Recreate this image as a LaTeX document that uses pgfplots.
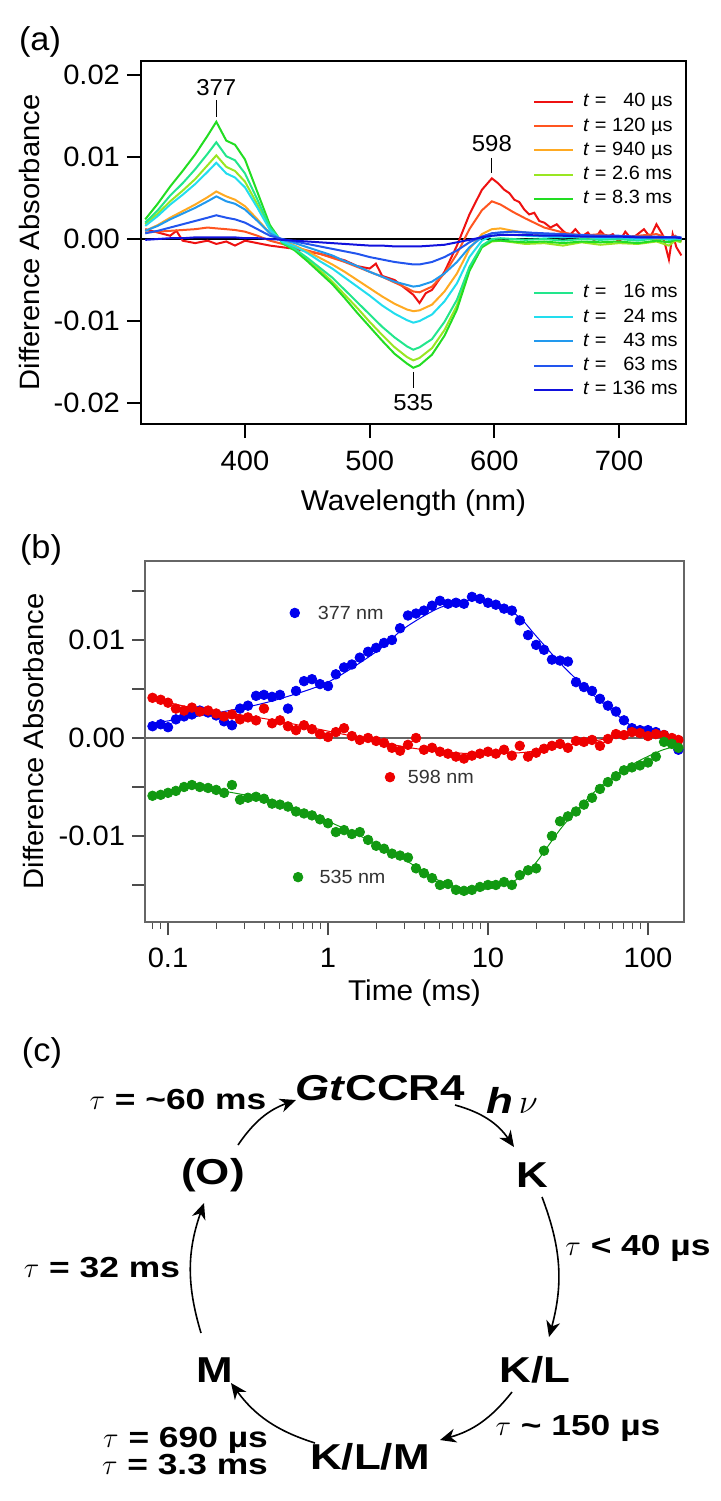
\documentclass[border=0pt]{standalone}
\usepackage{fontspec}
\setmainfont{Liberation Sans}[FakeStretch=1.04]
\newfontfamily\cfont{Liberation Sans}[FakeStretch=1.22]
\usepackage{pgfplots}
\pgfplotsset{compat=1.18}
\usepackage{pgfplotstable}
\usetikzlibrary{arrows.meta}

\definecolor{c1}{HTML}{EE1111}
\definecolor{c2}{HTML}{FF5520}
\definecolor{c3}{HTML}{FFAA22}
\definecolor{c4}{HTML}{99E622}
\definecolor{c5}{HTML}{22DD22}
\definecolor{c6}{HTML}{22E68C}
\definecolor{c7}{HTML}{22DDEE}
\definecolor{c8}{HTML}{2299EE}
\definecolor{c9}{HTML}{2255EE}
\definecolor{c10}{HTML}{1111DD}
\definecolor{pblue}{HTML}{0000EE}
\definecolor{pred}{HTML}{EE0000}
\definecolor{pgreen}{HTML}{119911}

\pgfplotstableread{
w a
320 0.0012
330 0.0008
340 0.0004
345 0.0010
350 -0.0002
360 -0.0005
370 -0.0002
377 -0.0006
385 -0.0003
392 -0.0008
400 -0.0002
410 -0.0005
420 -0.0008
430 -0.0010
440 -0.0012
450 -0.0015
460 -0.0018
470 -0.0022
480 -0.0026
490 -0.0033
500 -0.0036
505 -0.0030
510 -0.0045
520 -0.0050
530 -0.0062
535 -0.0068
540 -0.0078
545 -0.0066
550 -0.0062
560 -0.0040
570 -0.0008
580 0.0030
590 0.0060
598 0.0074
603 0.0068
608 0.0060
612 0.0056
616 0.0048
620 0.0045
624 0.0036
628 0.0030
632 0.0032
636 0.0022
640 0.0020
645 0.0014
650 0.0018
655 0.0010
660 0.0004
665 0.0012
670 0.0003
675 0.0008
680 -0.0002
685 0.0010
690 0.0002
695 0.0006
700 -0.0004
705 0.0009
710 0.0000
715 0.0006
720 0.0012
725 0.0002
730 0.0018
735 0.0005
740 -0.0025
743 0.0006
746 -0.0010
750 -0.0020
}\redspec

\pgfplotstableread{
w b c d e f g h i j
320 0.0008 0.0010 0.0018 0.0024 0.0020 0.0016 0.0010 0.0007 -0.0001
330 0.0009 0.0017 0.0031 0.0043 0.0035 0.0028 0.0016 0.0010 0.0000
340 0.0010 0.0026 0.0046 0.0064 0.0053 0.0042 0.0024 0.0014 0.0001
350 0.0011 0.0034 0.0059 0.0083 0.0068 0.0054 0.0031 0.0018 0.0001
360 0.0012 0.0042 0.0073 0.0103 0.0085 0.0067 0.0038 0.0022 0.0002
370 0.0014 0.0051 0.0090 0.0126 0.0104 0.0082 0.0046 0.0026 0.0002
377 0.0013 0.0058 0.0102 0.0143 0.0118 0.0093 0.0052 0.0029 0.0002
385 0.0012 0.0052 0.0088 0.0120 0.0101 0.0080 0.0046 0.0026 0.0002
392 0.0011 0.0048 0.0083 0.0115 0.0096 0.0075 0.0043 0.0024 0.0002
400 0.0009 0.0040 0.0070 0.0097 0.0080 0.0063 0.0036 0.0020 0.0001
410 0.0004 0.0024 0.0042 0.0057 0.0048 0.0038 0.0022 0.0012 0.0001
420 -0.0002 0.0007 0.0012 0.0017 0.0014 0.0011 0.0007 0.0004 0.0000
430 -0.0006 -0.0002 -0.0004 -0.0005 -0.0004 -0.0003 -0.0001 0.0000 -0.0001
440 -0.0010 -0.0008 -0.0013 -0.0014 -0.0012 -0.0009 -0.0005 -0.0003 -0.0002
450 -0.0014 -0.0015 -0.0025 -0.0027 -0.0023 -0.0017 -0.0010 -0.0006 -0.0003
460 -0.0018 -0.0023 -0.0038 -0.0041 -0.0035 -0.0027 -0.0015 -0.0009 -0.0004
470 -0.0023 -0.0031 -0.0052 -0.0055 -0.0047 -0.0036 -0.0020 -0.0012 -0.0005
480 -0.0028 -0.0040 -0.0068 -0.0072 -0.0062 -0.0047 -0.0027 -0.0015 -0.0006
490 -0.0034 -0.0050 -0.0084 -0.0090 -0.0077 -0.0058 -0.0033 -0.0018 -0.0007
500 -0.0040 -0.0060 -0.0101 -0.0107 -0.0092 -0.0069 -0.0040 -0.0022 -0.0008
510 -0.0046 -0.0070 -0.0117 -0.0124 -0.0107 -0.0081 -0.0046 -0.0025 -0.0008
520 -0.0053 -0.0079 -0.0132 -0.0140 -0.0120 -0.0091 -0.0052 -0.0028 -0.0009
530 -0.0060 -0.0086 -0.0144 -0.0152 -0.0131 -0.0099 -0.0056 -0.0030 -0.0009
535 -0.0064 -0.0088 -0.0148 -0.0157 -0.0135 -0.0102 -0.0058 -0.0031 -0.0009
540 -0.0065 -0.0087 -0.0145 -0.0154 -0.0132 -0.0100 -0.0057 -0.0031 -0.0009
550 -0.0058 -0.0080 -0.0133 -0.0141 -0.0122 -0.0092 -0.0052 -0.0028 -0.0008
560 -0.0042 -0.0064 -0.0111 -0.0118 -0.0101 -0.0076 -0.0042 -0.0022 -0.0007
570 -0.0018 -0.0042 -0.0081 -0.0086 -0.0074 -0.0054 -0.0028 -0.0014 -0.0004
580 0.0012 -0.0012 -0.0037 -0.0039 -0.0034 -0.0022 -0.0010 -0.0004 -0.0001
590 0.0035 0.0006 -0.0010 -0.0010 -0.0008 -0.0002 0.0002 0.0003 0.0002
598 0.0046 0.0012 -0.0003 -0.0002 0.0000 0.0004 0.0007 0.0007 0.0004
605 0.0042 0.0013 -0.0002 -0.0002 0.0001 0.0005 0.0008 0.0008 0.0005
615 0.0033 0.0010 -0.0004 -0.0003 0.0000 0.0005 0.0009 0.0009 0.0005
625 0.0025 0.0008 -0.0006 -0.0004 -0.0001 0.0004 0.0008 0.0008 0.0005
640 0.0014 0.0005 -0.0005 -0.0003 0.0000 0.0003 0.0006 0.0007 0.0004
655 0.0008 0.0003 -0.0008 -0.0005 -0.0002 0.0002 0.0005 0.0006 0.0004
670 0.0004 0.0002 -0.0004 -0.0003 0.0000 0.0003 0.0004 0.0005 0.0003
685 0.0006 0.0001 -0.0007 -0.0004 -0.0001 0.0001 0.0003 0.0004 0.0003
700 0.0002 0.0000 -0.0005 -0.0003 0.0000 0.0002 0.0002 0.0004 0.0003
715 0.0004 0.0002 -0.0006 -0.0005 -0.0002 0.0000 0.0002 0.0003 0.0002
730 0.0006 -0.0001 -0.0003 -0.0002 0.0001 0.0002 0.0001 0.0003 0.0002
740 0.0001 0.0001 -0.0008 -0.0004 -0.0001 0.0000 0.0002 0.0002 0.0002
745 0.0004 0.0000 -0.0002 -0.0001 0.0000 0.0001 0.0001 0.0003 0.0002
750 -0.0003 0.0001 -0.0004 -0.0002 0.0000 0.0000 0.0001 0.0002 0.0001
}\spectra

\pgfplotstableread{
t b r g
0.080 0.0012 0.0041 -0.0059
0.090 0.0014 0.0039 -0.0058
0.100 0.0011 0.0036 -0.0056
0.112 0.0019 0.0030 -0.0054
0.126 0.0022 0.0028 -0.0050
0.141 0.0024 0.0031 -0.0048
0.158 0.0028 0.0027 -0.0050
0.178 0.0026 0.0028 -0.0051
0.200 0.0023 0.0025 -0.0053
0.224 0.0017 0.0022 -0.0056
0.251 0.0013 0.0024 -0.0048
0.282 0.0030 0.0019 -0.0063
0.316 0.0033 0.0021 -0.0061
0.355 0.0043 0.0018 -0.0060
0.398 0.0044 0.0030 -0.0062
0.447 0.0042 0.0015 -0.0067
0.501 0.0044 0.0018 -0.0068
0.562 0.0030 0.0012 -0.0070
0.631 0.0048 0.0008 -0.0075
0.708 0.0058 0.0013 -0.0077
0.794 0.0060 0.0009 -0.0079
0.891 0.0055 0.0004 -0.0083
1.00 0.0053 0.0001 -0.0087
1.12 0.0065 0.0006 -0.0096
1.26 0.0072 0.0010 -0.0094
1.41 0.0075 0.0002 -0.0098
1.58 0.0082 -0.0002 -0.0096
1.78 0.0088 0.0000 -0.0104
2.00 0.0092 -0.0003 -0.0110
2.24 0.0097 -0.0005 -0.0113
2.51 0.0100 -0.0010 -0.0118
2.82 0.0112 -0.0013 -0.0120
3.16 0.0125 -0.0007 -0.0122
3.55 0.0127 0.0000 -0.0133
3.98 0.0130 -0.0012 -0.0138
4.47 0.0135 -0.0010 -0.0143
5.01 0.0140 -0.0014 -0.0150
5.62 0.0137 -0.0016 -0.0149
6.31 0.0138 -0.0019 -0.0155
7.08 0.0137 -0.0021 -0.0156
7.94 0.0144 -0.0018 -0.0155
8.91 0.0142 -0.0016 -0.0152
10.0 0.0138 -0.0014 -0.0150
11.2 0.0136 -0.0016 -0.0150
12.6 0.0132 -0.0012 -0.0147
14.1 0.0130 -0.0018 -0.0150
15.8 0.0120 -0.0008 -0.0140
17.8 0.0105 -0.0019 -0.0135
20.0 0.0095 -0.0015 -0.0133
22.4 0.0090 -0.0011 -0.0115
25.1 0.0080 -0.0008 -0.0100
28.2 0.0079 -0.0006 -0.0085
31.6 0.0078 -0.0010 -0.0080
35.5 0.0057 -0.0003 -0.0075
39.8 0.0052 -0.0004 -0.0068
44.7 0.0048 -0.0002 -0.0061
50.1 0.0040 -0.0008 -0.0052
56.2 0.0033 -0.0001 -0.0045
63.1 0.0027 0.0004 -0.0039
70.8 0.0018 0.0003 -0.0033
79.4 0.0010 0.0006 -0.0030
89.1 0.0008 0.0005 -0.0028
100 0.0008 0.0002 -0.0025
112 0.0006 0.0004 -0.0019
126 0.0003 0.0003 -0.0004
141 -0.0002 0.0000 -0.0006
155 -0.0012 -0.0002 -0.0010
}\traces

\pgfplotstableread{
t b r g
0.08 0.0015 0.0040 -0.0058
0.15 0.0022 0.0030 -0.0051
0.3 0.0031 0.0023 -0.0058
0.5 0.0040 0.0017 -0.0066
1 0.0057 0.0007 -0.0085
2 0.0088 -0.0003 -0.0108
3 0.0112 -0.0009 -0.0124
5 0.0133 -0.0014 -0.0146
8 0.0141 -0.0016 -0.0155
12 0.0136 -0.0016 -0.0151
16 0.0122 -0.0015 -0.0142
20 0.0104 -0.0013 -0.0127
30 0.0072 -0.0008 -0.0088
50 0.0038 -0.0002 -0.0050
80 0.0012 0.0004 -0.0027
120 0.0002 0.0003 -0.0013
155 -0.0003 0.0001 -0.0008
}\fits

\begin{document}
\begin{tikzpicture}
\path[use as bounding box] (0pt,0pt) rectangle (360.5pt,-750.5pt);

\node[font=\fontsize{16.5}{18}\selectfont] at (20pt,-21pt) {(a)};
\node[font=\fontsize{16.5}{18}\selectfont] at (20.5pt,-275pt) {(b)};
\node[font=\fontsize{16.5}{18}\selectfont] at (21pt,-526.5pt) {(c)};

% ---------------- (a) ----------------
\begin{axis}[
  at={(70.5pt,-30.5pt)}, anchor=north west,
  width=272.5pt, height=181.5pt, scale only axis,
  xmin=316.6, xmax=753.7, ymin=-0.02256, ymax=0.02171,
  scaled y ticks=false, scaled x ticks=false,
  xtick={400,500,600,700}, xticklabels={400,500,600,700},
  ytick={-0.02,-0.01,0,0.01,0.02}, yticklabels={-0.02,-0.01,0.00,0.01,0.02},
  xtick pos=left, ytick pos=left,
  tick align=outside, major tick length=7pt,
  tick style={line width=0.9pt, black},
  axis line style={line width=1.1pt},
  ticklabel style={font=\fontsize{14}{16}\selectfont},
  xticklabel style={yshift=-3pt},
  xlabel={Wavelength (nm)}, ylabel={Difference Absorbance},
  xlabel style={at={(axis description cs:0.5,-0.218)}, anchor=center, font=\fontsize{14.3}{16}\selectfont},
  ylabel style={at={(axis description cs:-0.205,0.5)}, anchor=center, font=\fontsize{14}{16}\selectfont},
  legend style={at={(axis cs:626,0.0186)}, anchor=north west, draw=none, fill=none,
    font=\fontsize{9.6}{11}\selectfont, row sep=1.1pt,
    nodes={inner sep=1pt, text height=7pt, text depth=2pt},
    /tikz/every odd column/.append style={column sep=3.5pt}},
  legend cell align=left,
  legend image code/.code={\draw[#1] (0pt,0pt) -- (19.5pt,0pt);},
  every axis plot/.append style={line width=1pt},
]
\addplot[black, line width=1.1pt, forget plot] coordinates {(316.6,0) (753.7,0)};
\addplot[c1] table[x=w,y=a] {\redspec};
\addlegendentry{\textit{t} = \phantom{0}40 µs}
\addplot[c2] table[x=w,y=b] {\spectra};
\addlegendentry{\textit{t} = 120 µs}
\addplot[c3] table[x=w,y=c] {\spectra};
\addlegendentry{\textit{t} = 940 µs}
\addplot[c4] table[x=w,y=d] {\spectra};
\addlegendentry{\textit{t} = 2.6 ms}
\addplot[c5] table[x=w,y=e] {\spectra};
\addlegendentry{\textit{t} = 8.3 ms}
\addplot[c6, forget plot] table[x=w,y=f] {\spectra};
\addplot[c7, forget plot] table[x=w,y=g] {\spectra};
\addplot[c8, forget plot] table[x=w,y=h] {\spectra};
\addplot[c9, forget plot] table[x=w,y=i] {\spectra};
\addplot[c10, forget plot] table[x=w,y=j] {\spectra};
\addplot[black, line width=0.5pt, forget plot] coordinates {(377,0.0169) (377,0.0149)};
\addplot[black, line width=0.5pt, forget plot] coordinates {(598,0.0099) (598,0.0080)};
\addplot[black, line width=0.5pt, forget plot] coordinates {(535,-0.0162) (535,-0.0182)};
\node[font=\fontsize{11.5}{12}\selectfont] at (axis cs:377,0.0185) {377};
\node[font=\fontsize{11.5}{12}\selectfont] at (axis cs:598,0.0116) {598};
\node[font=\fontsize{11.5}{12}\selectfont] at (axis cs:535,-0.0200) {535};
\end{axis}

\begin{axis}[
  at={(70.5pt,-30.5pt)}, anchor=north west,
  width=272.5pt, height=181.5pt, scale only axis, hide axis,
  xmin=316.6, xmax=753.7, ymin=-0.02256, ymax=0.02171,
  legend style={at={(axis cs:626,-0.0047)}, anchor=north west, draw=none, fill=none,
    font=\fontsize{9.6}{11}\selectfont, row sep=1.1pt,
    nodes={inner sep=1pt, text height=7pt, text depth=2pt},
    /tikz/every odd column/.append style={column sep=3.5pt}},
  legend cell align=left,
  legend image code/.code={\draw[#1] (0pt,0pt) -- (19.5pt,0pt);},
]
\addlegendimage{c6, line width=1pt}
\addlegendentry{\textit{t} = \phantom{0}16 ms}
\addlegendimage{c7, line width=1pt}
\addlegendentry{\textit{t} = \phantom{0}24 ms}
\addlegendimage{c8, line width=1pt}
\addlegendentry{\textit{t} = \phantom{0}43 ms}
\addlegendimage{c9, line width=1pt}
\addlegendentry{\textit{t} = \phantom{0}63 ms}
\addlegendimage{c10, line width=1pt}
\addlegendentry{\textit{t} = 136 ms}
\end{axis}

% ---------------- (b) ----------------
\begin{axis}[
  at={(72.5pt,-280.5pt)}, anchor=north west,
  width=269.5pt, height=180.5pt, scale only axis,
  xmode=log, xmin=0.0718, xmax=168, ymin=-0.01878, ymax=0.01806,
  scaled y ticks=false,
  xtick={0.1,1,10,100}, xticklabels={0.1,1,10,100},
  minor xtick={0.08,0.09,0.2,0.3,0.4,0.5,0.6,0.7,0.8,0.9,2,3,4,5,6,7,8,9,20,30,40,50,60,70,80,90},
  ytick={-0.015,-0.01,-0.005,0,0.005,0.01,0.015}, yticklabels={,-0.01,,0.00,,0.01,},
  xtick pos=left, ytick pos=left,
  tick align=outside, major tick length=6.5pt, minor tick length=3.5pt,
  tick style={line width=0.6pt, black!70},
  axis line style={line width=0.6pt, black!60},
  ticklabel style={font=\fontsize{14}{16}\selectfont},
  xticklabel style={yshift=-3pt},
  xlabel={Time (ms)}, ylabel={Difference Absorbance},
  xlabel style={at={(axis description cs:0.5,-0.197)}, anchor=center, font=\fontsize{14.3}{16}\selectfont},
  ylabel style={at={(axis description cs:-0.207,0.5)}, anchor=center, font=\fontsize{14}{16}\selectfont},
]
\addplot[black!60, line width=0.6pt] coordinates {(0.0718,0) (168,0)};
\addplot[only marks, mark=*, mark size=2.4pt, pblue] table[x=t,y=b] {\traces};
\addplot[only marks, mark=*, mark size=2.4pt, pred] table[x=t,y=r] {\traces};
\addplot[only marks, mark=*, mark size=2.4pt, pgreen] table[x=t,y=g] {\traces};
\addplot[pblue, smooth, line width=0.5pt] table[x=t,y=b] {\fits};
\addplot[pred, smooth, line width=0.5pt] table[x=t,y=r] {\fits};
\addplot[pgreen, smooth, line width=0.5pt] table[x=t,y=g] {\fits};
\addplot[only marks, mark=*, mark size=2.4pt, pblue] coordinates {(0.62,0.01276)};
\addplot[only marks, mark=*, mark size=2.4pt, pred] coordinates {(2.44,-0.0040)};
\addplot[only marks, mark=*, mark size=2.4pt, pgreen] coordinates {(0.65,-0.0142)};
\node[anchor=west, font=\fontsize{9.5}{11}\selectfont, text=black!80] at (axis cs:0.78,0.01276) {377 nm};
\node[anchor=west, font=\fontsize{9.5}{11}\selectfont, text=black!80] at (axis cs:2.85,-0.0040) {598 nm};
\node[anchor=west, font=\fontsize{9.5}{11}\selectfont, text=black!80] at (axis cs:0.80,-0.0142) {535 nm};
\end{axis}

% ---------------- (c) ----------------
\begin{axis}[
  at={(0pt,-492.5pt)}, anchor=north west,
  width=360.5pt, height=258pt, scale only axis, hide axis,
  xmin=0, xmax=721, ymin=-1501, ymax=-985, clip=false,
]
\begin{scope}[every node/.style={font=\cfont\bfseries\fontsize{18}{20}\selectfont}]
\node at (axis cs:380,-1088) {\textit{Gt}CCR4};
\node at (axis cs:532,-1175) {K};
\node at (axis cs:213,-1175) {(O)};
\node at (axis cs:215,-1370) {M};
\node at (axis cs:535,-1370) {K/L};
\node at (axis cs:370,-1457) {K/L/M};
\node at (axis cs:512,-1100) {\textit{h}\,$\nu$};
\end{scope}
\begin{scope}[every node/.style={font=\cfont\bfseries\fontsize{14.5}{17}\selectfont}]
\node at (axis cs:178,-1100) {$\tau$ = \textasciitilde60 ms};
\node at (axis cs:638,-1248) {$\tau$ < 40 µs};
\node at (axis cs:102,-1268) {$\tau$ = 32 ms};
\node at (axis cs:578,-1428) {$\tau$ \textasciitilde{} 150 µs};
\node[anchor=east] at (axis cs:275,-1440) {$\tau$ = 690 µs};
\node[anchor=east] at (axis cs:275,-1465) {$\tau$ = 3.3 ms};
\end{scope}
\begin{scope}[line width=0.8pt, -{Stealth[length=8pt,width=7pt,inset=2.5pt]}]
\draw (axis cs:455,-1105) to[bend left=20] (axis cs:514,-1147);
\draw (axis cs:542,-1197) to[bend left=18] (axis cs:549,-1337);
\draw (axis cs:512,-1392) to[bend left=18] (axis cs:440,-1440);
\draw (axis cs:315,-1443) to[bend left=18] (axis cs:231,-1383);
\draw (axis cs:201,-1333) to[bend left=18] (axis cs:204,-1203);
\draw (axis cs:238,-1145) to[bend left=18] (axis cs:296,-1100);
\end{scope}
\end{axis}
\end{tikzpicture}
\end{document}
